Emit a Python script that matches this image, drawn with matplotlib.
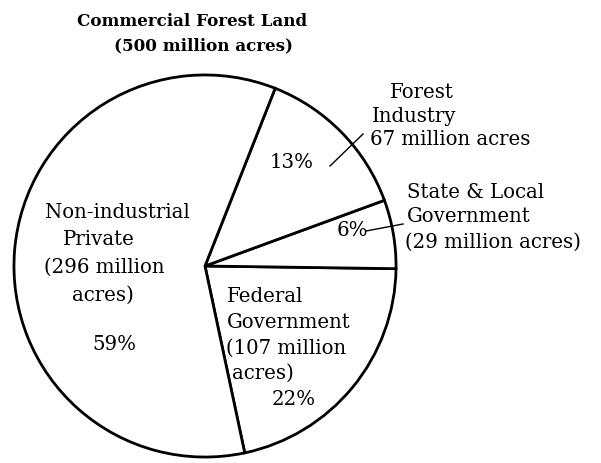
import matplotlib
matplotlib.use("Agg")
import matplotlib.pyplot as plt

# chart data
names = ["Federal", "State & Local", "Forest Industry", "Non-industrial Private"]
acres = [107, 29, 67, 296]          # million acres
percents = ["22%", "6%", "13%", "59%"]
title_lines = ["Commercial Forest Land", "(500 million acres)"]

W, H = 601, 464
fig = plt.figure(figsize=(W / 100, H / 100), dpi=100)
plt.rcParams['font.family'] = ['DejaVu Serif']

# pie circle in pixels: left 13, right 397, top 75, bottom 459
cx, cy, r = 205, 267, 192
ax = fig.add_axes([(cx - r) / W, (H - cy - r) / H, 2 * r / W, 2 * r / H])
ax.pie(acres, startangle=-78, counterclock=True, radius=1,
       colors=["white"] * len(acres),
       wedgeprops=dict(edgecolor="black", linewidth=2.0))
ax.set_xlim(-1.005, 1.005)
ax.set_ylim(-1.005, 1.005)
ax.axis("off")

# overlay in pixel coords for labels
ov = fig.add_axes([0, 0, 1, 1])
ov.set_xlim(0, W)
ov.set_ylim(H, 0)
ov.axis("off")
ov.patch.set_alpha(0)

fs = 14.2
def txt(x, y, s, **kw):
    ov.text(x, y, s, fontsize=kw.pop("fontsize", fs), va="center", ha=kw.pop("ha", "left"), **kw)

# title
txt(192, 21, title_lines[0], ha="center", fontweight="bold", fontsize=12.1)
txt(204, 46, title_lines[1], ha="center", fontweight="bold", fontsize=12.1)

# forest industry
txt(390, 92, "Forest")
txt(372, 117, "Industry")
txt(370, 140, "67 million acres")
txt(270, 163, percents[2])
ov.plot([330, 363], [167, 135], color="black", lw=1.0)

# state & local
txt(407, 193, "State & Local")
txt(407, 217, "Government")
txt(405, 242, "(29 million acres)")
txt(337, 231, percents[1])
ov.plot([366, 403], [232, 225], color="black", lw=1.0)

# federal
txt(227, 297, "Federal")
txt(227, 323, "Government")
txt(226, 348, "(107 million")
txt(232, 373, "acres)")
txt(272, 400, percents[0])

# non-industrial private
txt(45, 213, "Non-industrial")
txt(63, 240, "Private")
txt(44, 267, "(296 million")
txt(72, 295, "acres)")
txt(92, 345, percents[3])

fig.savefig("out.png", dpi=100)
